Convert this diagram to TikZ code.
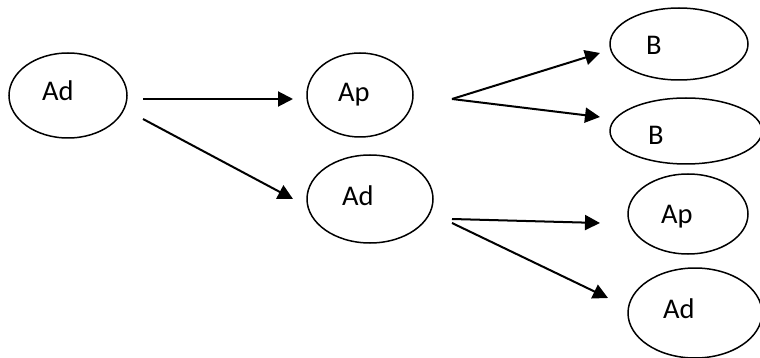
\documentclass[tikz,border=0pt]{standalone}
\usepackage{fontspec}
\setmainfont{Carlito}
\usetikzlibrary{shapes.geometric,arrows.meta}
\tikzset{
  oval/.style={draw=black, ellipse, line width=1.5pt, inner sep=0pt},
  lbl/.style={anchor=base west, inner sep=0pt, font=\fontsize{28.5}{32}\selectfont},
  conn/.style={line width=2pt, -{Triangle[length=15pt,width=15pt]}}
}
\begin{document}
\begin{tikzpicture}[x=1pt,y=-1pt]
\useasboundingbox (0,0) rectangle (760,358);
% ellipses
\node[oval, minimum width=118pt, minimum height=85pt] (e1) at (68,95.5) {};
\node[oval, minimum width=106pt, minimum height=84pt] (e2) at (360,95) {};
\node[oval, minimum width=126pt, minimum height=88pt] (e3) at (370,199) {};
\node[oval, minimum width=138pt, minimum height=72pt] (e4) at (679,44) {};
\node[oval, minimum width=152pt, minimum height=66pt] (e5) at (686,131) {};
\node[oval, minimum width=120pt, minimum height=80pt] (e6) at (688,214) {};
\node[oval, minimum width=134pt, minimum height=90pt] (e7) at (695,313) {};
% labels
\node[lbl] (t1) at (42,101) {Ad};
\node[lbl] (t2) at (338,102) {Ap};
\node[lbl] (t3) at (342,205) {Ad};
\node[lbl] (t4) at (646,55) {B};
\node[lbl] (t5) at (648,145) {B};
\node[lbl] (t6) at (661,223) {Ap};
\node[lbl] (t7) at (663,318) {Ad};
% connector ends
\coordinate (s1) at (143,99);
\coordinate (s2) at (143,119);
\coordinate (d1) at (293,99);
\coordinate (d2) at (293,199);
\coordinate (s3) at (452,99);
\coordinate (d3) at (600,53);
\coordinate (d4) at (600,117);
\coordinate (s5) at (452,219);
\coordinate (s6) at (452,223);
\coordinate (d5) at (600,223);
\coordinate (d6) at (608,298);
% connectors
\draw[conn] (s1) -- (d1);
\draw[conn] (s2) -- (d2);
\draw[conn] (s3) -- (d3);
\draw[conn] (s3) -- (d4);
\draw[conn] (s5) -- (d5);
\draw[conn] (s6) -- (d6);
\end{tikzpicture}
\end{document}
